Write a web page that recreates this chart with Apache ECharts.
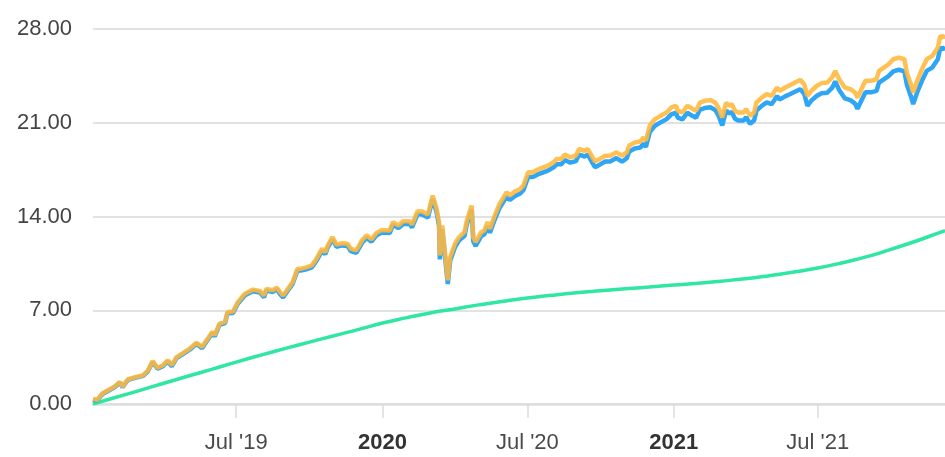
<!DOCTYPE html>
<html>
<head>
<meta charset="utf-8">
<script src="https://cdn.jsdelivr.net/npm/echarts@6/dist/echarts.min.js"></script>
<style>
html,body{margin:0;padding:0;background:#fff;}
#chart{width:945px;height:457px;}
</style>
</head>
<body>
<div id="chart"></div>
<script>
const dates = [
'2019-01-02','2019-01-07','2019-01-14','2019-01-23','2019-01-29','2019-02-05','2019-02-08','2019-02-15','2019-02-24','2019-03-06',
'2019-03-12','2019-03-18','2019-03-24','2019-03-31','2019-04-06','2019-04-11','2019-04-17','2019-04-25','2019-05-04','2019-05-12',
'2019-05-19','2019-05-25','2019-06-01','2019-06-04','2019-06-10','2019-06-17','2019-06-20','2019-06-27','2019-07-03','2019-07-12',
'2019-07-22','2019-07-31','2019-08-05','2019-08-08','2019-08-16','2019-08-21','2019-08-25','2019-08-29','2019-09-04','2019-09-10',
'2019-09-16','2019-09-20','2019-09-27','2019-10-04','2019-10-10','2019-10-17','2019-10-21','2019-10-24','2019-10-30','2019-11-04',
'2019-11-11','2019-11-18','2019-11-22','2019-11-29','2019-12-06','2019-12-12','2019-12-18','2019-12-24','2019-12-31',
'2020-01-10','2020-01-14','2020-01-21','2020-01-27','2020-02-04','2020-02-07','2020-02-14','2020-02-20','2020-02-27','2020-03-04',
'2020-03-09','2020-03-12','2020-03-13','2020-03-16','2020-03-18','2020-03-23','2020-03-26','2020-04-01','2020-04-06','2020-04-13',
'2020-04-16','2020-04-22','2020-04-24','2020-04-27','2020-05-04','2020-05-08','2020-05-12','2020-05-15','2020-05-21','2020-05-27',
'2020-06-05','2020-06-09','2020-06-15','2020-06-22','2020-06-26','2020-07-02','2020-07-08','2020-07-14','2020-07-21','2020-07-27',
'2020-08-03','2020-08-07','2020-08-13','2020-08-17','2020-08-24','2020-08-31','2020-09-04','2020-09-11','2020-09-15','2020-09-21',
'2020-09-24','2020-09-30','2020-10-07','2020-10-13','2020-10-21','2020-10-28','2020-11-03','2020-11-06','2020-11-13','2020-11-20',
'2020-11-24','2020-11-27','2020-12-02','2020-12-08','2020-12-15','2020-12-23','2020-12-29',
'2021-01-04','2021-01-06','2021-01-12','2021-01-18','2021-01-25','2021-01-29','2021-02-03','2021-02-09','2021-02-16','2021-02-22',
'2021-02-26','2021-03-03','2021-03-08','2021-03-11','2021-03-15','2021-03-19','2021-03-23','2021-03-30','2021-04-02','2021-04-07',
'2021-04-12','2021-04-15','2021-04-22','2021-04-28','2021-05-04','2021-05-11','2021-05-14','2021-05-21','2021-05-27','2021-06-03',
'2021-06-09','2021-06-14','2021-06-18','2021-06-23','2021-06-30','2021-07-06','2021-07-13','2021-07-19','2021-07-23','2021-07-28',
'2021-08-04','2021-08-11','2021-08-17','2021-08-20','2021-08-25','2021-08-30','2021-09-06','2021-09-13','2021-09-16','2021-09-22',
'2021-09-28','2021-10-04','2021-10-11','2021-10-18','2021-10-21','2021-10-26','2021-10-29','2021-11-03','2021-11-09','2021-11-15',
'2021-11-22','2021-11-29','2021-12-02','2021-12-06','2021-12-08'
];
const orangeValues = [
0.40,0.30,0.80,1.10,1.30,1.65,1.30,1.85,2.00,2.15,
2.50,3.20,2.70,2.90,3.27,2.90,3.50,3.80,4.15,4.57,
4.27,4.77,5.40,5.14,6.00,6.13,6.87,6.90,7.60,8.24,
8.54,8.44,8.10,8.60,8.49,8.70,8.36,8.10,8.60,9.10,
10.10,10.10,10.20,10.35,10.85,11.60,11.34,11.84,12.46,11.90,
12.00,11.97,11.60,11.47,12.20,12.60,12.30,12.76,13.00,
12.96,13.58,13.33,13.65,13.65,13.40,14.40,14.37,14.15,15.56,
14.57,13.58,11.10,13.33,13.20,9.23,10.97,11.97,12.46,12.83,
13.70,14.82,12.46,12.09,12.83,12.96,13.58,13.08,14.07,14.94,
15.81,15.56,15.85,16.06,16.31,17.30,17.30,17.50,17.67,17.80,
18.05,18.30,18.30,18.62,18.42,18.54,19.04,18.90,19.04,18.42,
18.12,18.30,18.54,18.54,18.79,18.54,18.79,19.29,19.53,19.60,
19.90,19.66,20.80,21.25,21.50,21.77,22.14,
22.27,21.90,21.77,22.27,22.02,21.90,22.51,22.64,22.69,22.51,
22.14,21.40,22.51,22.27,22.39,21.90,21.77,21.77,22.02,21.52,
21.77,22.51,22.89,23.14,23.01,23.63,23.38,23.63,23.80,24.02,
24.20,23.88,23.01,23.38,23.76,23.96,24.00,24.38,24.87,24.25,
23.63,23.51,23.26,22.89,23.51,24.13,24.13,24.25,24.87,25.12,
25.37,25.74,25.86,25.74,24.75,23.88,23.26,24.13,25.00,25.74,
25.99,26.61,27.48,27.36,27.55
];
const blueValues = [
0.33,0.25,0.75,1.05,1.25,1.60,1.25,1.80,1.95,2.10,
2.44,3.14,2.63,2.83,3.19,2.81,3.42,3.72,4.07,4.49,
4.17,4.69,5.31,5.04,5.91,6.04,6.78,6.79,7.48,8.12,
8.42,8.32,7.96,8.48,8.36,8.58,8.22,7.96,8.47,8.97,
9.97,9.96,10.06,10.20,10.70,11.44,11.18,11.68,12.30,11.74,
11.84,11.80,11.42,11.29,12.02,12.42,12.12,12.58,12.81,
12.76,13.38,13.13,13.44,13.44,13.19,14.18,14.15,13.92,15.32,
14.30,13.30,10.80,13.05,12.92,8.96,10.70,11.70,12.20,12.56,
13.43,14.55,12.16,11.80,12.54,12.67,13.29,12.78,13.77,14.64,
15.49,15.23,15.52,15.72,15.96,16.95,16.95,17.14,17.30,17.43,
17.67,17.91,17.91,18.22,18.02,18.13,18.62,18.48,18.62,17.98,
17.68,17.87,18.11,18.11,18.36,18.10,18.35,18.85,19.08,19.15,
19.44,19.20,20.32,20.76,21.01,21.27,21.63,
21.76,21.38,21.25,21.75,21.50,21.37,21.98,22.10,22.15,21.96,
21.58,20.80,21.93,21.69,21.80,21.30,21.17,21.17,21.42,20.92,
21.17,21.90,22.28,22.52,22.38,22.99,22.73,22.97,23.13,23.33,
23.50,23.17,22.27,22.65,23.02,23.21,23.24,23.60,24.08,23.45,
22.82,22.69,22.43,22.04,22.66,23.27,23.27,23.38,23.99,24.24,
24.48,24.84,24.96,24.84,23.86,23.00,22.39,23.26,24.13,24.87,
25.12,25.74,26.60,26.50,26.68
];
const greenDates = [
'2019-01-02','2019-02-01','2019-03-01','2019-04-01','2019-05-01','2019-06-01','2019-07-01','2019-08-01','2019-09-01','2019-10-01',
'2019-11-01','2019-12-01','2020-01-01','2020-02-01','2020-03-01','2020-04-01','2020-05-01','2020-06-01','2020-07-01','2020-08-01',
'2020-09-01','2020-10-01','2020-11-01','2020-12-01','2021-01-01','2021-02-01','2021-03-01','2021-04-01','2021-05-01','2021-06-01',
'2021-07-01','2021-08-01','2021-09-01','2021-10-01','2021-11-01','2021-12-01','2021-12-08'
];
const greenValues = [
0.00,0.52,1.00,1.55,2.07,2.60,3.13,3.65,4.15,4.62,
5.10,5.55,6.05,6.45,6.80,7.10,7.40,7.68,7.92,8.12,
8.30,8.45,8.60,8.73,8.88,9.02,9.17,9.35,9.58,9.85,
10.15,10.55,11.00,11.55,12.15,12.80,12.95
];
const xTickDates = ['2019-07-01','2020-01-01','2020-07-01','2021-01-01','2021-07-01'];
const yMin = 0, yMax = 28, yStep = 7;

function ts(s){ const p = s.split('-').map(Number); return Date.UTC(p[0], p[1]-1, p[2]); }
const monthNames = ['Jan','Feb','Mar','Apr','May','Jun','Jul','Aug','Sep','Oct','Nov','Dec'];

const chart = echarts.init(document.getElementById('chart'), null, {renderer:'canvas'});
const font = '"Liberation Sans", Arial, sans-serif';
const tickVals = xTickDates.map(ts);
chart.setOption({
  animation:false,
  backgroundColor:'#fff',
  grid:{left:93,right:0,top:29,bottom:53,containLabel:false},
  xAxis:{
    type:'value',
    min: ts(dates[0]),
    max: ts(dates[dates.length-1]),
    axisLine:{show:true,lineStyle:{color:'#dedede',width:2.5}},
    axisTick:{show:true,customValues:tickVals,length:14,lineStyle:{color:'#dcdcdc',width:1.5}},
    splitLine:{show:false},
    axisLabel:{
      customValues:tickVals,
      margin:28,
      fontSize:22,
      fontFamily:font,
      color:'#4a4a4a',
      hideOverlap:false,
      formatter:function(v){
        const d = new Date(v);
        if(d.getUTCMonth()===0) return '{b|'+d.getUTCFullYear()+'}';
        return monthNames[d.getUTCMonth()]+" '"+String(d.getUTCFullYear()).slice(2);
      },
      rich:{b:{fontWeight:'bold',fontSize:22,fontFamily:font,color:'#333'}}
    }
  },
  yAxis:{
    type:'value',
    min:yMin,max:yMax,interval:yStep,
    axisLine:{show:false},
    axisTick:{show:false},
    splitLine:{show:true,lineStyle:{color:'#e2e2e2',width:2}},
    axisLabel:{
      margin:21,fontSize:22,fontFamily:font,color:'#444',
      padding:[0,0,8,0],
      formatter:function(v){return v.toFixed(2);}
    }
  },
  series:[
    {type:'line',name:'green',data:greenDates.map((d,i)=>[ts(d),greenValues[i]]),showSymbol:false,smooth:true,
     lineStyle:{color:'#2fe6a3',width:3.5},itemStyle:{color:'#2fe6a3'},z:2},
    {type:'line',name:'blue',data:dates.map((d,i)=>[ts(d),blueValues[i]]),showSymbol:false,
     lineStyle:{color:'#2ea5f5',width:4.5},itemStyle:{color:'#2ea5f5'},z:3},
    {type:'line',name:'orange',data:dates.map((d,i)=>[ts(d),orangeValues[i]]),showSymbol:false,
     lineStyle:{color:'#ffb83c',width:4.5,opacity:0.88},itemStyle:{color:'#ffb83c'},z:4}
  ]
});
</script>
</body>
</html>
